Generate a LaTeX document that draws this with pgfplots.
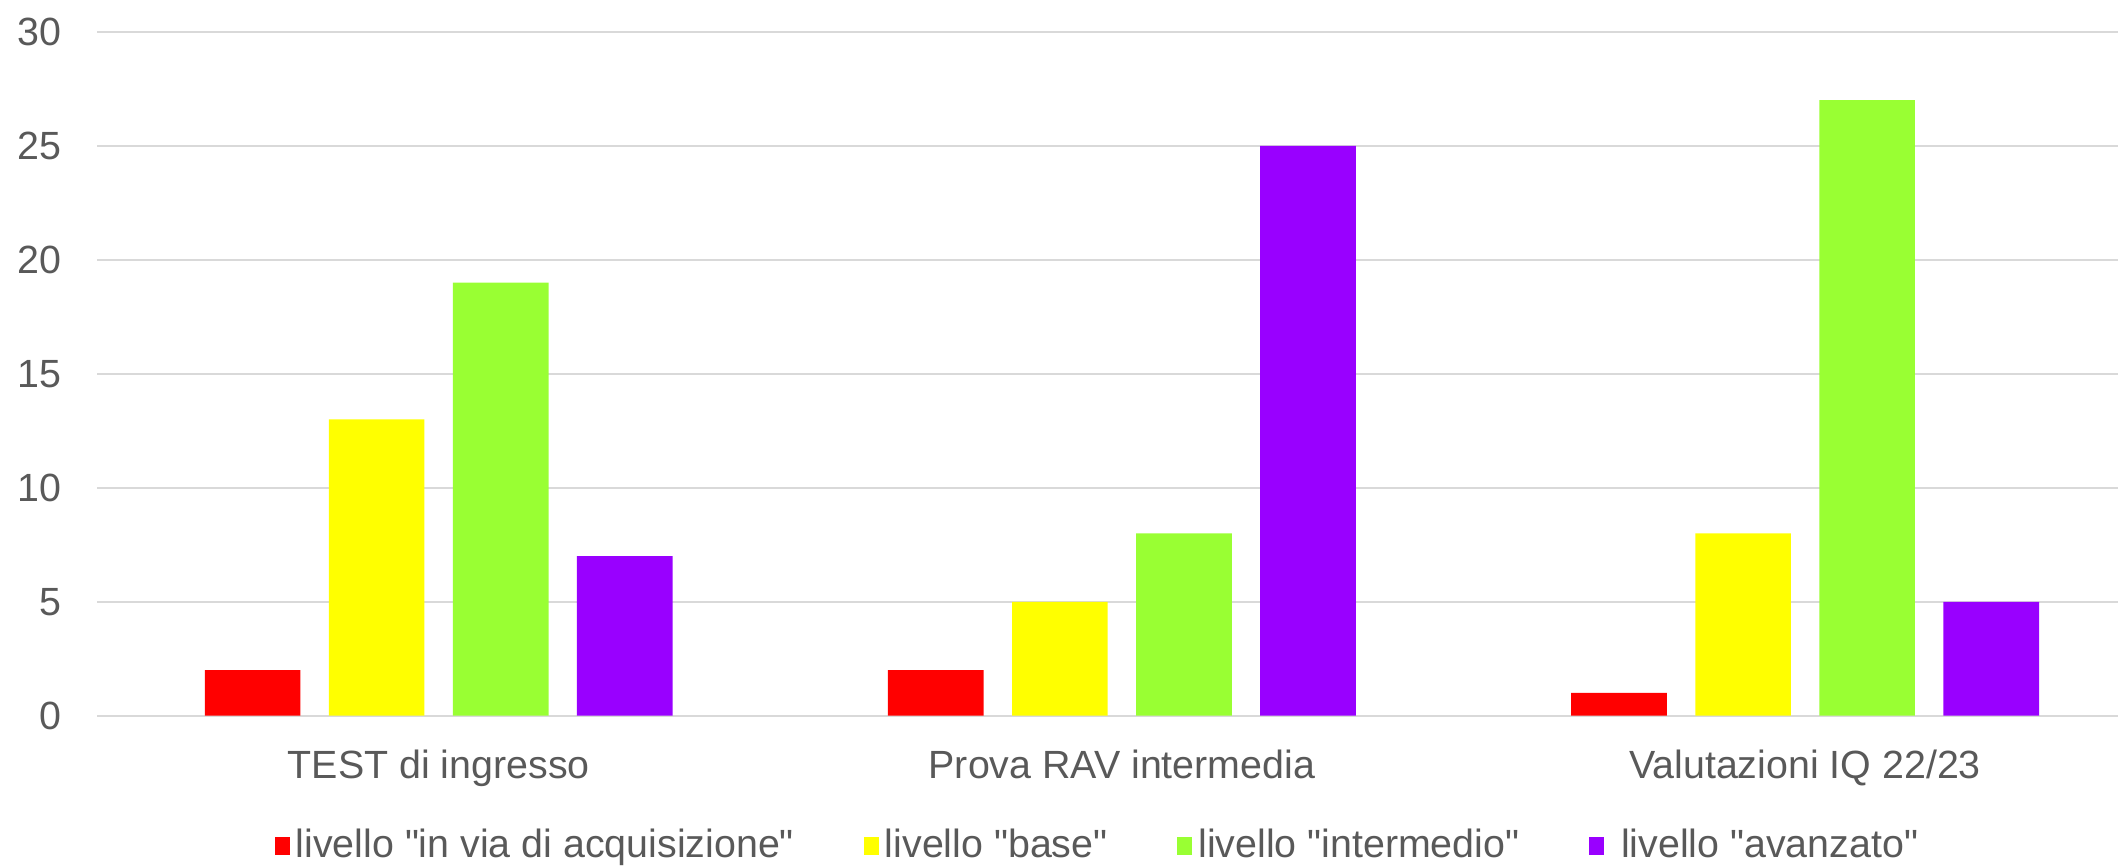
\documentclass[border=0pt]{standalone}
\usepackage{fontspec}
\setmainfont{Liberation Sans}
\usepackage{pgfplots}
\pgfplotsset{compat=1.18}

\definecolor{lvred}{HTML}{FF0000}
\definecolor{lvyellow}{HTML}{FFFF00}
\definecolor{lvgreen}{HTML}{99FF33}
\definecolor{lvpurple}{HTML}{9900FF}
\definecolor{txtgray}{HTML}{595959}
\definecolor{gridgray}{HTML}{D9D9D9}

\newcommand{\q}{\textquotedbl}

\begin{document}
\begin{tikzpicture}
\begin{axis}[
  scale only axis,
  width=539pt, height=182.4pt,
  xmin=-0.5, xmax=2.458,
  ymin=0, ymax=30,
  ytick={0,5,...,30},
  xtick={0,1,2},
  xticklabels={TEST di ingresso, Prova RAV intermedia, Valutazioni IQ 22/23},
  axis line style={draw=none},
  major tick length=0pt,
  ymajorgrids,
  grid style={gridgray, line width=0.55pt},
  tick label style={font=\fontsize{10.5}{12}\selectfont, text=txtgray},
  xticklabel style={yshift=-5.5pt},
  yticklabel style={xshift=-6pt},
  /pgf/number format/assume math mode=true,
  bar width=0.14,
  legend style={at={(0.496,-0.191)}, anchor=center, draw=none, fill=none,
    legend columns=-1, font=\fontsize{10.5}{12}\selectfont, text=txtgray,
    nodes={inner xsep=1.6pt},
    /tikz/every even column/.append style={column sep=17pt}},
  legend image code/.code={\fill[#1] (0pt,-2.2pt) rectangle (4pt,2.4pt);},
  legend cell align=left,
]
\addplot[ybar, fill=lvred, draw=none, bar shift=-0.2724] coordinates {(0,2) (1,2) (2,1)};
\addplot[ybar, fill=lvyellow, draw=none, bar shift=-0.0908] coordinates {(0,13) (1,5) (2,8)};
\addplot[ybar, fill=lvgreen, draw=none, bar shift=0.0908] coordinates {(0,19) (1,8) (2,27)};
\addplot[ybar, fill=lvpurple, draw=none, bar shift=0.2724] coordinates {(0,7) (1,25) (2,5)};
\legend{livello \q in via di acquisizione\q, livello \q base\q, livello \q intermedio\q, \ livello \q avanzato\q}
\end{axis}
\path (current axis.south west) ++(-25.9pt,-40.5pt) coordinate (bbA);
\path (current axis.north east) ++(0pt,8.5pt) coordinate (bbB);
\pgfresetboundingbox
\path[use as bounding box] (bbA) rectangle (bbB);
\end{tikzpicture}
\end{document}
